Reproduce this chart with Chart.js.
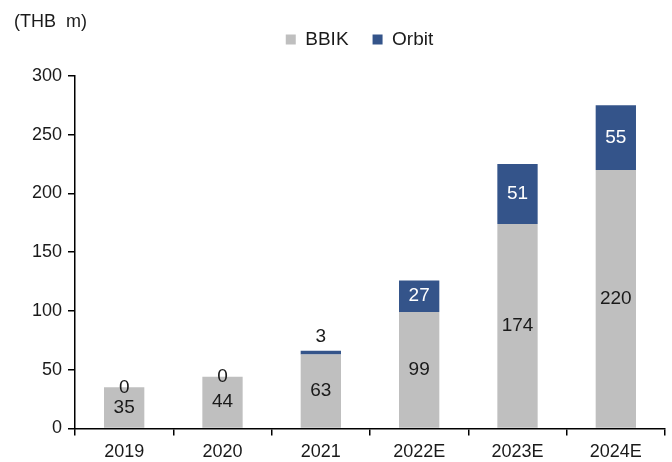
<!DOCTYPE html>
<html>
<head>
<meta charset="utf-8">
<script src="https://cdn.jsdelivr.net/npm/chart.js@4"></script>
<style>
  html, body { margin: 0; padding: 0; background: #fff; }
  #wrap { width: 672px; height: 462px; }
</style>
</head>
<body>
<div id="wrap"><canvas id="chart" width="672" height="462"></canvas></div>
<script>
const years = ['2019', '2020', '2021', '2022E', '2023E', '2024E'];
const bbik = [35, 44, 63, 99, 174, 220];
const orbit = [0, 0, 3, 27, 51, 55];
const yTicks = [0, 50, 100, 150, 200, 250, 300];

const FONT = 'Liberation Sans, Arial, sans-serif';

// value labels drawn at the bar positions the library computed
const barLabels = {
  id: 'barLabels',
  afterLayout(chart) {
    // nudge the legend to where it sits in the original
    const lg = chart.legend;
    lg.left += 27; lg.right += 27;
    lg.top -= 17; lg.bottom -= 17;
  },
  afterDatasetsDraw(chart) {
    const ctx = chart.ctx;
    ctx.save();
    ctx.font = '19px ' + FONT;
    ctx.textAlign = 'center';
    ctx.textBaseline = 'middle';
    chart.data.datasets.forEach((ds, di) => {
      chart.getDatasetMeta(di).data.forEach((bar, i) => {
        const v = ds.data[i];
        const h = bar.base - bar.y;
        let y = (bar.y + bar.base) / 2;
        let color = '#1a1a1a';
        if (di === 1) {
          if (v === 0) {
            y = bar.y;
          } else if (h < 20) {
            y = bar.y - 14;
          } else {
            color = '#ffffff';
          }
        }
        ctx.fillStyle = color;
        ctx.fillText(String(v), bar.x, y);
      });
    });
    ctx.restore();
  },
  afterDraw(chart) {
    const ctx = chart.ctx;
    ctx.save();
    ctx.font = '18px ' + FONT;
    ctx.fillStyle = '#1a1a1a';
    ctx.textAlign = 'left';
    ctx.textBaseline = 'middle';
    ctx.fillText('(THB  m)', 14, 22);
    ctx.restore();
  }
};

new Chart(document.getElementById('chart'), {
  type: 'bar',
  data: {
    labels: years,
    datasets: [
      { label: 'BBIK', data: bbik, backgroundColor: '#bfbfbf', barPercentage: 0.41, categoryPercentage: 1 },
      { label: 'Orbit', data: orbit, backgroundColor: '#34548a', barPercentage: 0.41, categoryPercentage: 1 }
    ]
  },
  options: {
    responsive: false,
    animation: false,
    layout: { padding: { left: 0, right: 7, top: 23, bottom: -7 } },
    plugins: {
      legend: {
        position: 'top',
        labels: {
          boxWidth: 10,
          boxHeight: 10,
          padding: 24,
          color: '#1a1a1a',
          font: { family: FONT, size: 19 }
        }
      },
      tooltip: { enabled: false }
    },
    scales: {
      x: {
        stacked: true,
        border: { color: '#000', width: 1.5 },
        grid: { offset: true, drawOnChartArea: false, color: '#000', tickLength: 7, lineWidth: 1.5 },
        ticks: { color: '#1a1a1a', font: { family: FONT, size: 18 }, padding: 6 }
      },
      y: {
        stacked: true,
        min: 0,
        max: 300,
        afterBuildTicks(axis) { axis.ticks = yTicks.map(v => ({ value: v })); },
        afterFit(axis) { axis.width = 75; },
        border: { color: '#000', width: 1.5 },
        grid: { drawOnChartArea: false, color: '#000', tickLength: 7, lineWidth: 1.5 },
        ticks: { color: '#1a1a1a', font: { family: FONT, size: 18 }, padding: 6 }
      }
    }
  },
  plugins: [barLabels]
});
</script>
</body>
</html>
